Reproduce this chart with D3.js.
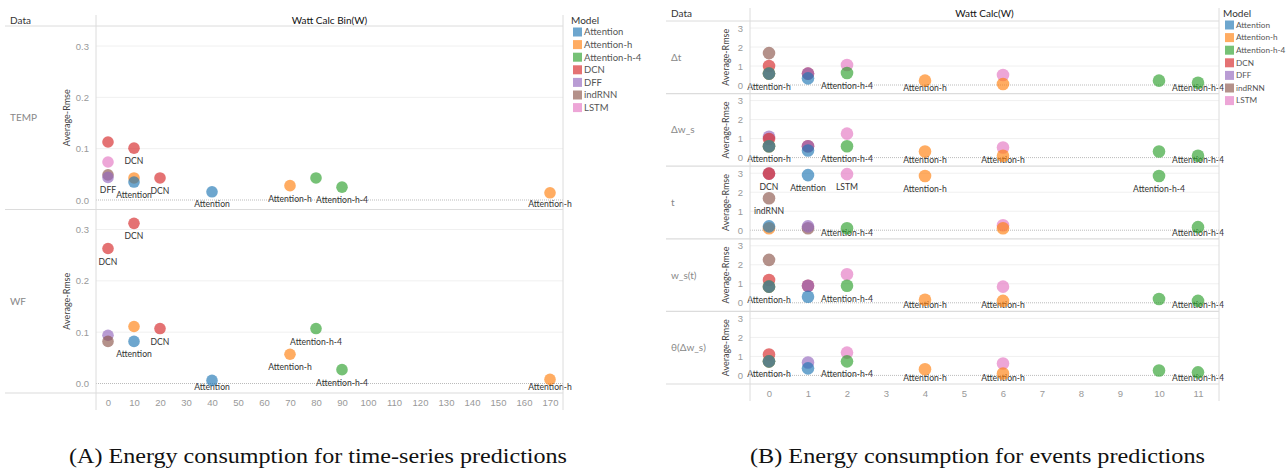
<!DOCTYPE html>
<html>
<head>
<meta charset="utf-8">
<script src="https://cdn.jsdelivr.net/npm/d3@7"></script>
<style>
  body { margin: 0; background: #fff; }
  svg { display: block; font-family: Lato, "Open Sans", sans-serif; }
</style>
</head>
<body>
<svg id="chart" width="1288" height="468"></svg>
<script>
// models shown in both legends (Tableau 10 classic colours)
const models = ["Attention", "Attention-h", "Attention-h-4", "DCN", "DFF", "indRNN", "LSTM"]

// (A) time-series: x = Watt Calc Bin(W)
const binTicks = [0, 10, 20, 30, 40, 50, 60, 70, 80, 90, 100, 110, 120, 130, 140, 150, 160, 170]
const rmseTicksA = [0, 0.1, 0.2, 0.3]
const rowsA = ["TEMP", "WF"]

// [model, watt, average rmse, has label]
const tempPoints = [
  ["DCN", 0, 0.113, 0], ["LSTM", 0, 0.074, 0], ["indRNN", 0, 0.049, 0], ["DFF", 0, 0.044, 1],
  ["DCN", 10, 0.101, 1], ["Attention-h", 10, 0.043, 0], ["Attention", 10, 0.035, 1],
  ["DCN", 20, 0.043, 1], ["Attention", 40, 0.016, 1], ["Attention-h", 70, 0.028, 1],
  ["Attention-h-4", 80, 0.043, 0], ["Attention-h-4", 90, 0.025, 1], ["Attention-h", 170, 0.014, 1]
]
const wfPoints = [
  ["DCN", 0, 0.263, 1], ["DCN", 10, 0.312, 1], ["DFF", 0, 0.094, 0], ["indRNN", 0, 0.082, 0],
  ["Attention-h", 10, 0.111, 0], ["Attention", 10, 0.082, 1], ["DCN", 20, 0.107, 1],
  ["Attention", 40, 0.006, 1], ["Attention-h", 70, 0.057, 1], ["Attention-h-4", 80, 0.107, 1],
  ["Attention-h-4", 90, 0.027, 1], ["Attention-h", 170, 0.008, 1]
]

// (B) events: x = Watt Calc(W)
const calcTicks = [0, 1, 2, 3, 4, 5, 6, 7, 8, 9, 10, 11]
const rmseTicksB = [0, 1, 2, 3]
const rowsB = ["Δt", "Δw_s", "t", "w_s(t)", "θ(Δw_s)"]

const dtPoints = [
  ["indRNN", 0, 1.68, 0], ["DCN", 0, 1.0, 0], ["Attention-h-4", 0, 0.6, 0], ["Attention-h", 0, 0.6, 1],
  ["Attention", 0, 0.6, 0],
  ["DCN", 1, 0.6, 0], ["DFF", 1, 0.6, 0], ["Attention", 1, 0.35, 0],
  ["LSTM", 2, 1.05, 0], ["Attention-h-4", 2, 0.63, 1], ["Attention-h", 4, 0.23, 1],
  ["LSTM", 6, 0.53, 0], ["Attention-h", 6, 0.05, 0],
  ["Attention-h-4", 10, 0.23, 0], ["Attention-h-4", 11, 0.12, 1]
]
const dwsPoints = [
  ["DFF", 0, 1.1, 0], ["DCN", 0, 0.98, 0], ["Attention-h-4", 0, 0.6, 0], ["Attention-h", 0, 0.6, 1],
  ["Attention", 0, 0.6, 0],
  ["DCN", 1, 0.6, 0], ["DFF", 1, 0.6, 0], ["Attention", 1, 0.37, 0],
  ["LSTM", 2, 1.26, 0], ["Attention-h-4", 2, 0.6, 1], ["Attention-h", 4, 0.32, 1],
  ["LSTM", 6, 0.53, 0], ["Attention-h", 6, 0.1, 1],
  ["Attention-h-4", 10, 0.32, 0], ["Attention-h-4", 11, 0.1, 1]
]
const tPoints = [
  ["DFF", 0, 2.98, 0], ["DCN", 0, 2.98, 1], ["indRNN", 0, 1.68, 1],
  ["Attention-h", 0, 0.1, 0], ["Attention", 0, 0.2, 0],
  ["Attention", 1, 2.9, 1], ["indRNN", 1, 0.1, 0], ["DFF", 1, 0.2, 0],
  ["LSTM", 2, 2.95, 1], ["Attention-h-4", 2, 0.1, 1], ["Attention-h", 4, 2.85, 1],
  ["LSTM", 6, 0.26, 0], ["Attention-h", 6, 0.1, 0],
  ["Attention-h-4", 10, 2.85, 1], ["Attention-h-4", 11, 0.16, 1]
]
const wstPoints = [
  ["indRNN", 0, 2.26, 0], ["DCN", 0, 1.2, 0], ["Attention-h-4", 0, 0.85, 0], ["Attention-h", 0, 0.85, 1],
  ["Attention", 0, 0.85, 0],
  ["DCN", 1, 0.9, 0], ["DFF", 1, 0.9, 0], ["Attention", 1, 0.32, 0],
  ["LSTM", 2, 1.5, 0], ["Attention-h-4", 2, 0.9, 1], ["Attention-h", 4, 0.16, 1],
  ["LSTM", 6, 0.85, 0], ["Attention-h", 6, 0.1, 1],
  ["Attention-h-4", 10, 0.2, 0], ["Attention-h-4", 11, 0.1, 1]
]
const thetaPoints = [
  ["DCN", 0, 1.1, 0], ["Attention-h-4", 0, 0.74, 0], ["Attention-h", 0, 0.74, 1],
  ["Attention", 0, 0.74, 0],
  ["DFF", 1, 0.68, 0], ["Attention", 1, 0.37, 0],
  ["LSTM", 2, 1.2, 0], ["Attention-h-4", 2, 0.74, 1], ["Attention-h", 4, 0.32, 1],
  ["LSTM", 6, 0.63, 0], ["Attention-h", 6, 0.1, 1],
  ["Attention-h-4", 10, 0.26, 0], ["Attention-h-4", 11, 0.16, 1]
]

const captions = ["(A) Energy consumption for time-series predictions", "(B) Energy consumption for events predictions"]

const svg = d3.select("#chart")
const color = d3.scaleOrdinal().domain(models).range(d3.schemeCategory10)

const lineColor = "#dcdcdc"

function drawPanel(cfg) {
  const g = svg.append("g")

  const x = d3.scaleLinear().domain(cfg.xDomain).range(cfg.xRange)

  // header
  g.append("text").attr("x", cfg.left + 5).attr("y", cfg.headerY)
    .attr("font-size", 10).attr("fill", "#333").text("Data")
  g.append("text").attr("x", (cfg.plotLeft + cfg.plotRight) / 2).attr("y", cfg.headerY)
    .attr("text-anchor", "middle").attr("font-size", 10).attr("fill", "#111")
    .text(cfg.xTitle)

  cfg.rows.forEach((row, i) => {
    const top = cfg.top + i * cfg.rowH
    const bottom = top + cfg.rowH
    const y = d3.scaleLinear().domain([0, cfg.yTicks[cfg.yTicks.length - 1]])
      .range([top + cfg.zeroOff, top + cfg.maxOff])

    // gridlines
    g.append("g").selectAll("line")
      .data(cfg.yTicks.slice(1))
      .enter().append("line")
      .attr("x1", cfg.plotLeft).attr("x2", cfg.plotRight)
      .attr("y1", d => y(d)).attr("y2", d => y(d))
      .attr("stroke", "#f0f0f0")
    g.append("line")
      .attr("x1", cfg.plotLeft).attr("x2", cfg.plotRight)
      .attr("y1", y(0)).attr("y2", y(0))
      .attr("stroke", "#bbb").attr("stroke-dasharray", "1,1")

    // y axis
    const yAxis = g.append("g")
      .attr("transform", `translate(${cfg.plotLeft - 4},0)`)
      .call(d3.axisLeft(y).tickValues(cfg.yTicks).tickSize(0).tickFormat(cfg.yFormat))
    yAxis.select(".domain").remove()
    yAxis.selectAll("text").attr("font-size", 9.5).attr("fill", "#999").attr("font-family", null)

    g.append("text")
      .attr("transform", `translate(${cfg.yTitleX},${(top + bottom) / 2}) rotate(-90)`)
      .attr("text-anchor", "middle").attr("dy", "0.35em")
      .attr("font-size", 9).attr("fill", "#444")
      .text("Average-Rmse")

    g.append("text").attr("x", cfg.left + 5).attr("y", (top + bottom) / 2).attr("dy", "0.35em")
      .attr("font-size", 10).attr("fill", "#888").text(row)

    // row separator
    g.append("line")
      .attr("x1", cfg.left).attr("x2", cfg.plotRight)
      .attr("y1", bottom).attr("y2", bottom)
      .attr("stroke", lineColor).attr("stroke-width", 1.2)

    const pts = cfg.points[i]

    g.append("g").selectAll("text")
      .data(pts.filter(d => d[3]))
      .enter().append("text")
      .attr("x", d => x(d[1]))
      .attr("y", d => Math.min(y(d[2]) + 13, bottom - 6))
      .attr("dy", "0.35em")
      .attr("text-anchor", "middle")
      .attr("font-size", 8.6).attr("fill", "#333")
      .text(d => d[0])

    g.append("g").selectAll("circle")
      .data(pts)
      .enter().append("circle")
      .attr("cx", d => x(d[1]))
      .attr("cy", d => y(d[2]))
      .attr("r", cfg.r)
      .attr("fill", d => color(d[0]))
      .attr("fill-opacity", 0.65)
  })

  const axisBottom = cfg.top + cfg.rows.length * cfg.rowH

  // header line and vertical dividers
  g.append("line").attr("x1", cfg.left).attr("x2", cfg.plotRight)
    .attr("y1", cfg.top).attr("y2", cfg.top).attr("stroke", lineColor)
  g.append("line").attr("x1", cfg.plotLeft).attr("x2", cfg.plotLeft)
    .attr("y1", cfg.vTop).attr("y2", axisBottom + 17).attr("stroke", lineColor)
  g.append("line").attr("x1", cfg.plotRight).attr("x2", cfg.plotRight)
    .attr("y1", cfg.vTop).attr("y2", axisBottom + 17).attr("stroke", lineColor)

  // x axis
  const xAxis = g.append("g")
    .attr("transform", `translate(0,${axisBottom + 3})`)
    .call(d3.axisBottom(x).tickValues(cfg.xTicks).tickSize(0))
  xAxis.select(".domain").remove()
  xAxis.selectAll("text").attr("font-size", 9.5).attr("fill", "#999").attr("font-family", null)

  // legend
  const lg = g.append("g")
  lg.append("text").attr("x", cfg.legendX - 2).attr("y", cfg.legendY - 8)
    .attr("font-size", 10).attr("fill", "#333").text("Model")
  const item = lg.selectAll("g.item")
    .data(models)
    .enter().append("g")
    .attr("class", "item")
    .attr("transform", (d, i) => `translate(${cfg.legendX},${cfg.legendY + i * 12.6})`)
  item.append("rect").attr("x", 0).attr("y", -4.5).attr("width", 9).attr("height", 9)
    .attr("fill", d => color(d)).attr("fill-opacity", 0.65)
  item.append("text").attr("x", 11).attr("dy", "0.35em")
    .attr("font-size", cfg.legendFont).attr("fill", "#555").text(d => d)
}

drawPanel({
  left: 5, plotLeft: 96, plotRight: 563, top: 26, vTop: 15, headerY: 24,
  rowH: 183.5, zeroOff: 174, maxOff: 20, rows: rowsA,
  points: [tempPoints, wfPoints],
  xDomain: [0, 170], xRange: [108, 550], xTicks: binTicks, xTitle: "Watt Calc Bin(W)",
  yTicks: rmseTicksA, yFormat: d3.format(".1f"), yTitleX: 67, r: 5.8,
  legendX: 573, legendY: 32, legendFont: 9.5
})

drawPanel({
  left: 666, plotLeft: 750, plotRight: 1219, top: 21, vTop: 8, headerY: 17,
  rowH: 72.6, zeroOff: 64, maxOff: 7, rows: rowsB,
  points: [dtPoints, dwsPoints, tPoints, wstPoints, thetaPoints],
  xDomain: [0, 11], xRange: [769, 1198], xTicks: calcTicks, xTitle: "Watt Calc(W)",
  yTicks: rmseTicksB, yFormat: d3.format("d"), yTitleX: 726, r: 6.3,
  legendX: 1225, legendY: 25, legendFont: 8.2
})

// captions
svg.selectAll("text.caption")
  .data(captions)
  .enter().append("text")
  .attr("class", "caption")
  .attr("x", (d, i) => i === 0 ? 69 : 750)
  .attr("y", 463)
  .attr("textLength", (d, i) => i === 0 ? 498 : 455)
  .attr("lengthAdjust", "spacingAndGlyphs")
  .attr("font-family", "'Liberation Serif', serif")
  .attr("font-size", 22)
  .attr("fill", "#111")
  .text(d => d)
</script>
</body>
</html>
